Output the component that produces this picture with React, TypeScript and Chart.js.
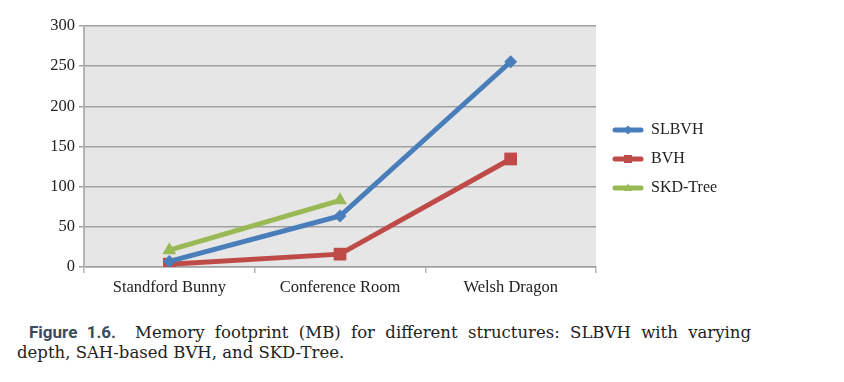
import React, { useEffect, useRef } from "react";
import { Chart, registerables } from "chart.js";

Chart.register(...registerables);

const categories = ["Standford Bunny", "Conference Room", "Welsh Dragon"];
const slbvh = [7, 63.5, 255.5];
const bvh = [3.5, 16, 134.5];
const skdTree = [21, 83, null];
const yTicks = [0, 50, 100, 150, 200, 250, 300];

const SERIES = [
  { label: "SLBVH", data: slbvh, color: "#4a7ebb", point: "rectRot", radius: 6.5 },
  { label: "BVH", data: bvh, color: "#be4b48", point: "rect", radius: 9 },
  { label: "SKD-Tree", data: skdTree, color: "#98b954", point: "triangle", radius: 8 },
];

const FONT = "'Liberation Serif', serif";

const bgPlugin = {
  id: "bgPlugin",
  beforeDraw(chart: any) {
    const { ctx, chartArea } = chart;
    ctx.save();
    ctx.fillStyle = "#e6e6e6";
    ctx.fillRect(chartArea.left, chartArea.top, chartArea.right - chartArea.left, chartArea.bottom - chartArea.top);
    ctx.restore();
  },
};

const legendPlugin = {
  id: "customLegend",
  afterDraw(chart: any) {
    const { ctx, chartArea } = chart;
    const x0 = chartArea.right + 19;
    const x1 = x0 + 26;
    const ys = [122, 151, 180];
    ctx.save();
    chart.data.datasets.forEach((ds: any, i: number) => {
      const y = ys[i];
      ctx.strokeStyle = ds.borderColor;
      ctx.lineWidth = 5;
      ctx.lineCap = "round";
      ctx.beginPath();
      ctx.moveTo(x0, y);
      ctx.lineTo(x1, y);
      ctx.stroke();
      ctx.fillStyle = ds.borderColor;
      const cx = (x0 + x1) / 2;
      ctx.beginPath();
      if (ds.pointStyle === "rectRot") {
        ctx.moveTo(cx, y - 4.5);
        ctx.lineTo(cx + 4.5, y);
        ctx.lineTo(cx, y + 4.5);
        ctx.lineTo(cx - 4.5, y);
      } else if (ds.pointStyle === "rect") {
        ctx.rect(cx - 4, y - 4, 8, 8);
      } else {
        ctx.moveTo(cx, y - 4.5);
        ctx.lineTo(cx + 4.5, y + 3);
        ctx.lineTo(cx - 4.5, y + 3);
      }
      ctx.closePath();
      ctx.fill();
      ctx.fillStyle = "#222";
      ctx.font = `16px ${FONT}`;
      ctx.textAlign = "left";
      ctx.textBaseline = "middle";
      ctx.fillText(ds.label, x1 + 10, y);
    });
    ctx.restore();
  },
};

export default function App() {
  const ref = useRef<HTMLCanvasElement>(null);
  useEffect(() => {
    if (!ref.current) return;
    const chart = new Chart(ref.current, {
      type: "line",
      data: {
        labels: categories,
        datasets: SERIES.map((s) => ({
          label: s.label,
          data: s.data,
          borderColor: s.color,
          backgroundColor: s.color,
          borderWidth: 5,
          pointStyle: s.point as any,
          pointRadius: s.radius,
          pointBackgroundColor: s.color,
          pointBorderColor: s.color,
          pointBorderWidth: 0,
          fill: false,
          tension: 0,
          spanGaps: false,
        })),
      },
      options: {
        animation: false,
        responsive: true,
        maintainAspectRatio: false,
        layout: { padding: { top: 18, right: 248, bottom: 0, left: 36 } },
        plugins: { legend: { display: false }, tooltip: { enabled: false } },
        scales: {
          x: {
            offset: true,
            afterFit: (axis: any) => {
              axis.height = 41;
            },
            grid: {
              offset: true,
              drawOnChartArea: false,
              drawTicks: true,
              tickLength: 6,
              color: "#b4b4b4",
              lineWidth: 1.5,
            },
            border: { display: true, color: "#a0a0a0", width: 1.5 },
            ticks: { font: { family: FONT, size: 16.5 }, color: "#222", padding: 5, maxRotation: 0 },
          },
          y: {
            min: 0,
            max: 300,
            afterFit: (axis: any) => {
              axis.width = 40;
            },
            afterBuildTicks: (axis: any) => {
              axis.ticks = yTicks.map((v) => ({ value: v }));
            },
            grid: { color: "#a0a0a0", lineWidth: 1.5, tickLength: 5 },
            border: { display: true, color: "#b4b4b4", width: 2 },
            ticks: { font: { family: FONT, size: 16.5 }, color: "#222", padding: 4 },
          },
        },
      },
      plugins: [bgPlugin, legendPlugin],
    });
    return () => chart.destroy();
  }, []);
  return (
    <div>
      <div style={{ position: "relative", width: 836, height: 300 }}>
        <canvas ref={ref} />
      </div>
      <div
        style={{
          marginLeft: 9,
          marginTop: 14,
          width: 734,
          textAlign: "justify",
          textIndent: 12,
          fontFamily: "'DejaVu Serif', serif",
          fontSize: 16.5,
          lineHeight: "20px",
          color: "#222",
        }}
      >
        <span
          style={{
            fontFamily: "Roboto, sans-serif",
            fontWeight: 700,
            color: "#3c4b5e",
            fontSize: 17,
            marginRight: 19,
          }}
        >
          Figure 1.6.
        </span>
        Memory footprint (MB) for different structures: SLBVH with varying depth, SAH-based BVH, and SKD-Tree.
      </div>
    </div>
  );
}
